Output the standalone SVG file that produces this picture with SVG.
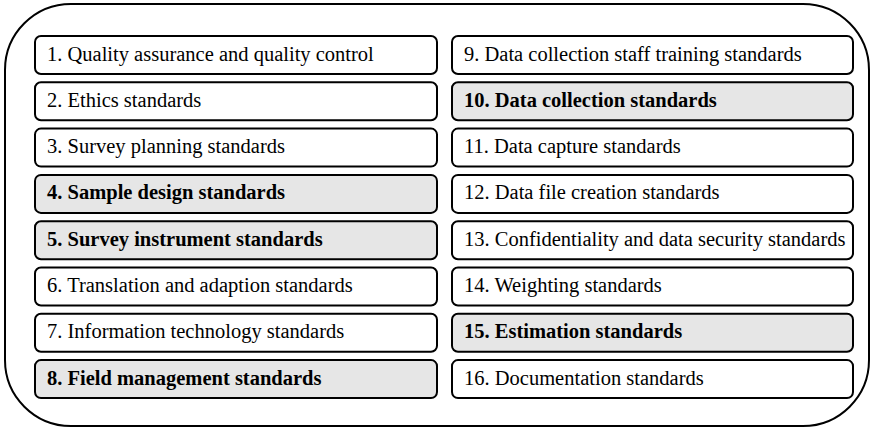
<svg xmlns="http://www.w3.org/2000/svg" width="872" height="429" viewBox="0 0 872 429">
<style>
.box{fill:#fff;stroke:#000;stroke-width:2}
.hl{fill:#e6e6e6}
.t{font-family:"Liberation Serif","Times New Roman",serif;font-size:20.5px;fill:#000}
.b{font-weight:bold}
</style>
<rect id="frame" x="5" y="4" width="864" height="422" rx="66" ry="66" fill="#fff" stroke="#000" stroke-width="2"/>
<g id="n1"><rect class="box" x="35" y="36" width="402" height="38" rx="6"/><text class="t" x="47" y="60.5">1. Quality assurance and quality control</text></g>
<g id="n2"><rect class="box" x="35" y="82.3" width="402" height="38" rx="6"/><text class="t" x="47" y="106.8">2. Ethics standards</text></g>
<g id="n3"><rect class="box" x="35" y="128.6" width="402" height="38" rx="6"/><text class="t" x="47" y="153.1">3. Survey planning standards</text></g>
<g id="n4"><rect class="box hl" x="35" y="174.9" width="402" height="38" rx="6"/><text class="t b" x="47" y="199.4">4. Sample design standards</text></g>
<g id="n5"><rect class="box hl" x="35" y="221.2" width="402" height="38" rx="6"/><text class="t b" x="47" y="245.7">5. Survey instrument standards</text></g>
<g id="n6"><rect class="box" x="35" y="267.5" width="402" height="38" rx="6"/><text class="t" x="47" y="292">6. Translation and adaption standards</text></g>
<g id="n7"><rect class="box" x="35" y="313.8" width="402" height="38" rx="6"/><text class="t" x="47" y="338.3">7. Information technology standards</text></g>
<g id="n8"><rect class="box hl" x="35" y="360.1" width="402" height="38" rx="6"/><text class="t b" x="47" y="384.6">8. Field management standards</text></g>
<g id="n9"><rect class="box" x="452" y="36" width="401" height="38" rx="6"/><text class="t" x="464" y="60.5">9. Data collection staff training standards</text></g>
<g id="n10"><rect class="box hl" x="452" y="82.3" width="401" height="38" rx="6"/><text class="t b" x="464" y="106.8">10. Data collection standards</text></g>
<g id="n11"><rect class="box" x="452" y="128.6" width="401" height="38" rx="6"/><text class="t" x="464" y="153.1">11. Data capture standards</text></g>
<g id="n12"><rect class="box" x="452" y="174.9" width="401" height="38" rx="6"/><text class="t" x="464" y="199.4">12. Data file creation standards</text></g>
<g id="n13"><rect class="box" x="452" y="221.2" width="401" height="38" rx="6"/><text class="t" x="464" y="245.7">13. Confidentiality and data security standards</text></g>
<g id="n14"><rect class="box" x="452" y="267.5" width="401" height="38" rx="6"/><text class="t" x="464" y="292">14. Weighting standards</text></g>
<g id="n15"><rect class="box hl" x="452" y="313.8" width="401" height="38" rx="6"/><text class="t b" x="464" y="338.3">15. Estimation standards</text></g>
<g id="n16"><rect class="box" x="452" y="360.1" width="401" height="38" rx="6"/><text class="t" x="464" y="384.6">16. Documentation standards</text></g>
<g id="connectors"/>
</svg>
